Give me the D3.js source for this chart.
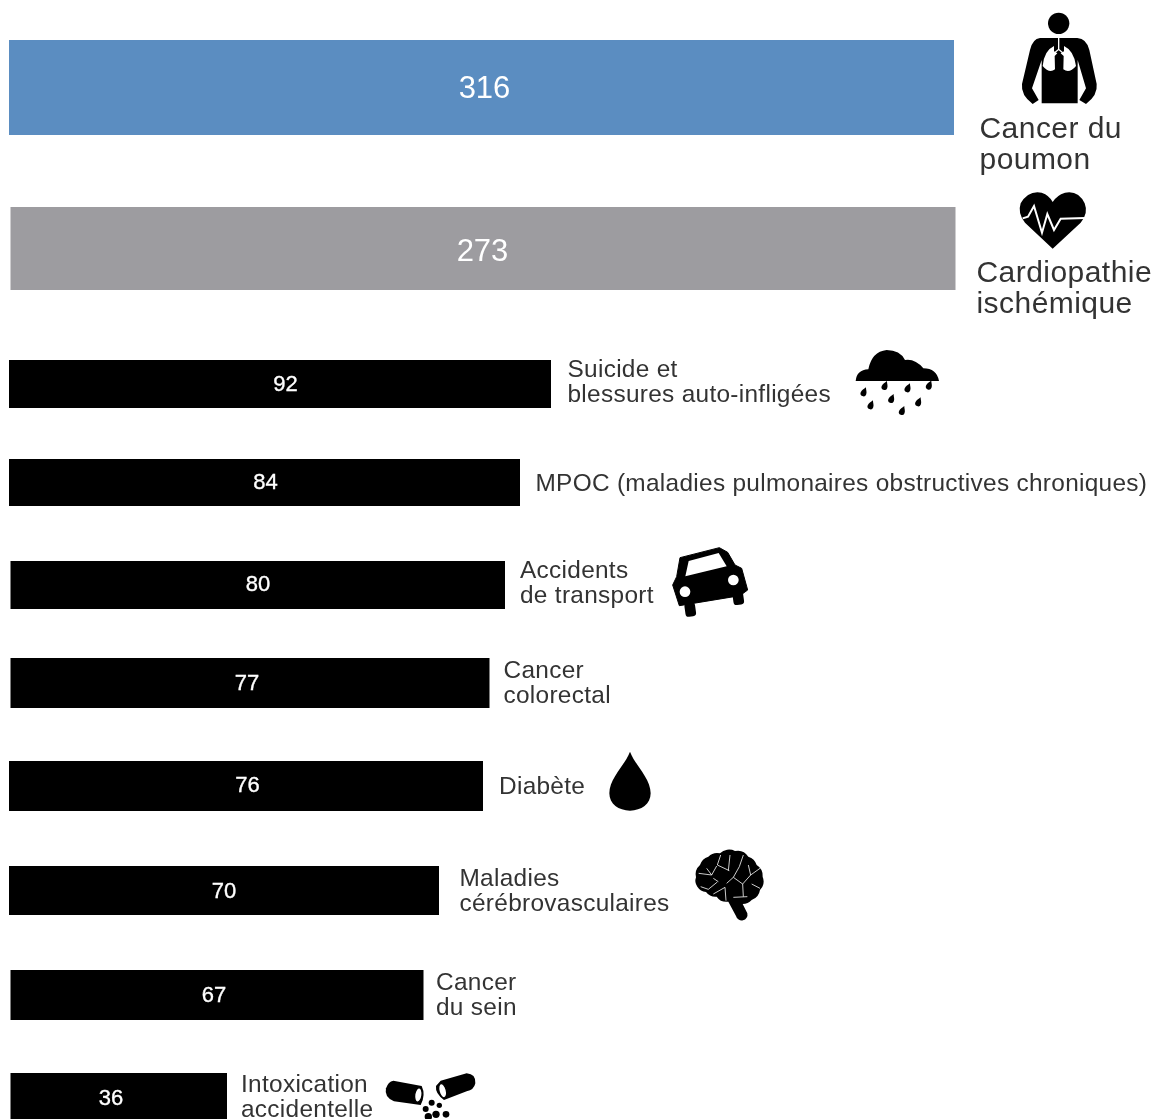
<!DOCTYPE html>
<html lang="fr">
<head>
<meta charset="utf-8">
<title>Causes de décès</title>
<script src="https://cdn.jsdelivr.net/npm/d3@7"></script>
<style>
html,body{margin:0;padding:0;background:#fff;overflow:hidden}
svg{display:block;font-family:"Liberation Sans",Arial,sans-serif;filter:blur(0.35px)}
</style>
</head>
<body>
<svg id="chart" width="1154" height="1119"></svg>
<script>
// Data
const categories = ["Cancer du poumon","Cardiopathie ischémique","Suicide et blessures auto-infligées","MPOC (maladies pulmonaires obstructives chroniques)","Accidents de transport","Cancer colorectal","Diabète","Maladies cérébrovasculaires","Cancer du sein","Intoxication accidentelle"];
const values = [316,273,92,84,80,77,76,70,67,36];
const labelLines = [["Cancer du","poumon"],["Cardiopathie","ischémique"],["Suicide et","blessures auto-infligées"],["MPOC (maladies pulmonaires obstructives chroniques)"],["Accidents","de transport"],["Cancer","colorectal"],["Diabète"],["Maladies","cérébrovasculaires"],["Cancer","du sein"],["Intoxication","accidentelle"]];

// Layout (infographic bars are not strictly proportional)
const barColors = ["#5b8dc1","#9d9ca0","#000","#000","#000","#000","#000","#000","#000","#000"];
const barLeft   = [9,10.5,9,9,10.5,10.5,9,9,10.5,10.5];
const barTop    = [40,207,360,459,561,658,761,866,970,1073];
const barBottom = [135,290,408,506,609,708,811,915,1020,1125];
const valueX    = [484.5,482.5,285.5,265.5,258,247,247.5,224,214,111];
const valueY    = [87.5,250,383.5,481.5,583.5,683,785,891,995,1098];
const valueDomain = [0,36,67,70,76,77,80,84,92,273,316];
const widthRange  = [0,216.5,413,430,474,479,494.5,511,542,945,945];
const labelX    = [979.5,976.5,567.5,535.5,520,503.5,499,459.5,436,241];
const labelBase = [138,282,377,491,578,678,794,886,990,1092];
const labelLead = [31,31,25,25,25,25,25,25,25,25];
const labelSize = [30,30,24.4,24.4,24.4,24.4,24.4,24.4,24.4,24.4];
const labelTrack = [0.45,0.45,0.3,0.3,0.3,0.3,0.3,0.3,0.3,0.3];

const svg = d3.select("#chart");
const x = d3.scaleLinear().domain(valueDomain).range(widthRange);
const rows = d3.range(values.length);

svg.append("g").selectAll("rect").data(rows).join("rect")
  .attr("x", i => barLeft[i])
  .attr("y", i => barTop[i])
  .attr("width", i => x(values[i]))
  .attr("height", i => barBottom[i] - barTop[i])
  .attr("fill", i => barColors[i]);

svg.append("g").selectAll("text").data(rows).join("text")
  .attr("x", i => valueX[i])
  .attr("y", i => valueY[i])
  .attr("dy", "0.34em")
  .attr("text-anchor", "middle")
  .attr("fill", "#fff")
  .attr("font-size", i => i < 2 ? 31 : 22)
  .attr("stroke", i => i < 2 ? "none" : "#fff")
  .attr("stroke-width", 0.35)
  .text(i => values[i]);

const labelG = svg.append("g");
rows.forEach(i => {
  labelG.append("text")
    .attr("aria-label", categories[i])
    .attr("fill", "#333")
    .attr("font-size", labelSize[i])
    .attr("letter-spacing", labelTrack[i])
    .selectAll("tspan").data(labelLines[i]).join("tspan")
    .attr("x", labelX[i])
    .attr("y", (d, k) => labelBase[i] + k * labelLead[i])
    .text(d => d);
});

// Pictograms, each drawn in its own 3x sketch space
const icon = (tx, ty) => svg.append("g").attr("transform", `translate(${tx},${ty}) scale(${1/3})`);

// Person with lungs
const person = icon(960, 0);
person.append("circle").attr("cx", 296).attr("cy", 70).attr("r", 32);
person.append("path").attr("d", "M240 114 L352 114 Q380 116 388 150 L410 252 Q414 285 378 312 L358 300 L378 265 L353 180 L353 310 L245 310 L245 180 L216 265 L236 300 L218 312 Q182 285 186 252 L210 150 Q218 116 240 114Z");
person.append("path").attr("fill", "#fff").attr("d", "M282 138 Q252 152 248 198 Q268 222 285 208 L284 168 L292 160 L282 154Z M312 138 Q342 152 348 198 Q328 222 310 208 L311 168 L302 160 L312 154Z");
person.append("path").attr("fill", "none").attr("stroke", "#fff").attr("stroke-width", 4).attr("d", "M296 112 V150 M284 158 L296 148 L308 158");

// Heart
const heart = icon(960, 0);
heart.append("path").attr("d", "M278 746 L195 668 Q172 640 182 610 Q205 570 245 578 Q268 586 278 606 Q290 586 315 578 Q355 570 374 610 Q386 640 362 668Z");
heart.append("path").attr("fill", "none").attr("stroke", "#fff").attr("stroke-width", 6).attr("d", "M188 655 L204 650 L222 618 L246 698 L262 642 L282 690 L302 656 L376 654");

// Rain cloud
const cloud = icon(840, 340);
cloud.append("path").attr("d", "M47 123 Q50 90 85 88 Q95 35 140 30 Q180 30 195 60 Q225 55 250 85 Q290 85 297 123Z");
const dropPath = "M0 -14 C3 -7 8 -3 8 4 A8 8 0 0 1 -8 4 C-8 -3 -3 -7 0 -14Z";
const dropSpots = [[72,156],[135,137],[204,144],[268,136],[93,195],[155,176],[236,186],[187,212]];
cloud.selectAll("path.drop").data(dropSpots).join("path").attr("class", "drop")
  .attr("d", dropPath).attr("transform", d => `translate(${d[0]},${d[1]}) rotate(22) scale(1.1)`);

// Car
const car = icon(660, 535);
car.append("path").attr("stroke", "#000").attr("stroke-width", 3).attr("stroke-linejoin", "round")
  .attr("d", "M60 68 L178 38 L203 52 L225 90 L245 100 L263 165 L240 182 L58 212 L38 150 L50 125Z");
car.append("g").selectAll("rect").data([[72,205],[216,170]]).join("rect")
  .attr("x", d => d[0]).attr("y", d => d[1]).attr("width", 32).attr("height", 42).attr("rx", 10)
  .attr("transform", d => `rotate(-8 ${d[0]} ${d[1]})`);
car.append("path").attr("fill", "#fff").attr("d", "M76 124 L86 78 L176 54 L200 94Z");
car.append("circle").attr("cx", 75).attr("cy", 170).attr("r", 16).attr("fill", "#fff");
car.append("circle").attr("cx", 220).attr("cy", 135).attr("r", 16).attr("fill", "#fff");

// Blood drop
icon(600, 740).append("path").attr("d", "M90 35 C105 75 152 115 152 160 C152 192 124 212 90 212 C56 212 28 192 28 160 C28 115 75 75 90 35Z");

// Brain
const brain = icon(600, 740);
const brainOutline = [[288,412],[300,375],[325,350],[360,340],[405,333],[445,350],[470,375],[488,410],[480,450],[455,480],[428,492]];
brain.append("path").attr("d", "M" + brainOutline[0] + brainOutline.slice(1).map(p => `A38 38 0 0 1 ${p[0]} ${p[1]}`).join("")
  + "L442 520 A16 16 0 0 1 408 528 L385 485 A36 36 0 0 1 350 470 A36 36 0 0 1 318 456 A36 36 0 0 1 292 440 A30 30 0 0 1 288 412Z");
brain.append("path").attr("fill", "none").attr("stroke", "#fff").attr("stroke-width", 2.4)
  .attr("d", "M296 400 L335 405 L350 378 M320 385 L335 405 M362 345 L352 375 L388 392 M390 345 L385 392 M430 345 L418 380 L400 412 L380 430 M400 412 L428 432 L452 405 L480 385 M428 432 L430 470 M452 405 L445 375 M455 432 L480 445 M302 440 L325 448 L352 426 M340 462 L375 442 L378 482 M400 472 L442 470 M355 425 L340 415");

// Capsules and pills
const pills = icon(370, 1060);
pills.append("path").attr("d", "M70 62 L155 78 Q168 105 152 135 L72 124 Q42 112 48 85 Q55 64 70 62Z");
pills.append("ellipse").attr("cx", 145).attr("cy", 105).attr("rx", 11).attr("ry", 22).attr("fill", "#fff").attr("stroke", "#000").attr("stroke-width", 4).attr("transform", "rotate(8 145 105)");
pills.append("path").attr("d", "M212 62 L290 40 Q318 42 316 70 Q312 90 290 94 L222 120 Q195 100 198 78Z");
pills.append("ellipse").attr("cx", 218).attr("cy", 92).attr("rx", 11).attr("ry", 22).attr("fill", "#fff").attr("stroke", "#000").attr("stroke-width", 4).attr("transform", "rotate(-15 218 92)");
pills.append("g").selectAll("circle").data([[185,128,9],[208,136,8],[167,147,9],[175,170,11],[198,163,11],[228,163,10]]).join("circle")
  .attr("cx", d => d[0]).attr("cy", d => d[1]).attr("r", d => d[2]);
</script>
</body>
</html>
